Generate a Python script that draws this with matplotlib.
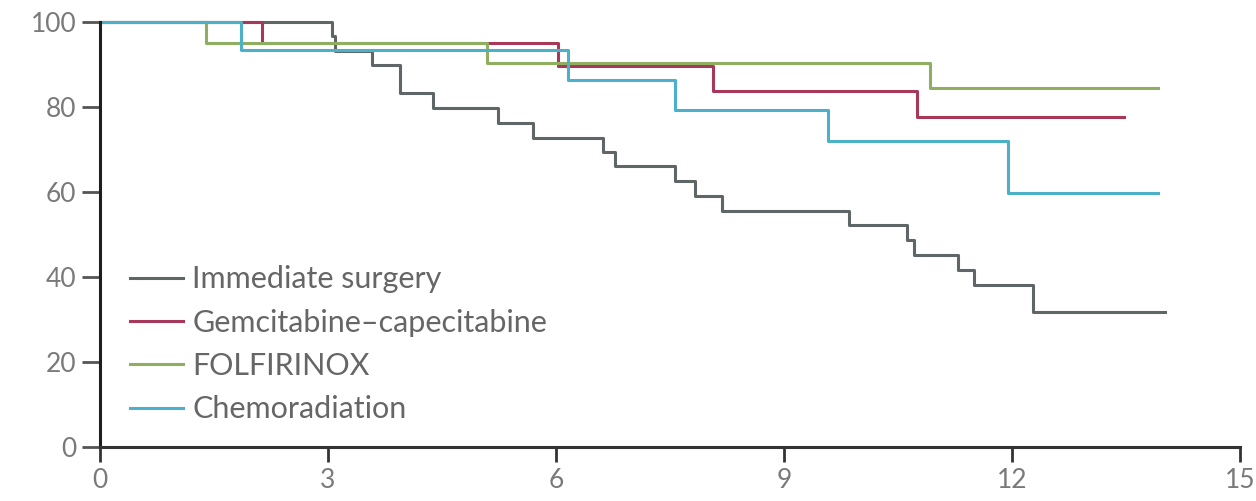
import matplotlib
matplotlib.use("Agg")
from matplotlib import pyplot as plt

# Kaplan-Meier curves (months, % surviving)
surgery_t = [0, 3.05, 3.09, 3.58, 3.95, 4.38, 5.24, 5.70, 6.62, 6.78, 7.57, 7.83, 8.18,
             9.86, 10.62, 10.71, 11.29, 11.50, 12.28, 14.01]
surgery_s = [100, 96.6, 93.1, 89.9, 83.2, 79.7, 76.2, 72.7, 69.4, 66.0, 62.5, 59.0, 55.5,
             52.2, 48.6, 45.0, 41.5, 38.0, 31.8, 31.8]

gemcap_t = [0, 2.13, 6.03, 8.07, 10.75, 13.47]
gemcap_s = [100, 95.0, 89.5, 83.6, 77.6, 77.6]

folfirinox_t = [0, 1.40, 5.09, 10.92, 13.92]
folfirinox_s = [100, 95.1, 90.2, 84.5, 84.5]

chemorad_t = [0, 1.86, 6.16, 7.57, 9.58, 11.95, 13.92]
chemorad_s = [100, 93.3, 86.3, 79.2, 71.9, 59.7, 59.7]

labels = ["Immediate surgery", "Gemcitabine\u2013capecitabine", "FOLFIRINOX", "Chemoradiation"]
colors = ["#5f6668", "#a8385a", "#8fae62", "#4bb0c8"]

x_ticks = [0, 3, 6, 9, 12, 15]
y_ticks = [0, 20, 40, 60, 80, 100]

plt.rcParams['font.family'] = ['Lato', 'DejaVu Sans']

W, H = 1256, 501
fig = plt.figure(figsize=(W / 100, H / 100), dpi=100)
ax = fig.add_axes([100 / W, 54.3 / H, 1140 / W, 425 / H])

curves = [(surgery_t, surgery_s), (gemcap_t, gemcap_s),
          (folfirinox_t, folfirinox_s), (chemorad_t, chemorad_s)]
for (t, s), lab, col in zip(curves, labels, colors):
    ax.step(t, s, where='post', color=col, lw=2.2, label=lab, clip_on=False)

ax.set_xlim(0, 15)
ax.set_ylim(0, 100)
ax.set_xticks(x_ticks)
ax.set_yticks(y_ticks)

for side in ['top', 'right']:
    ax.spines[side].set_visible(False)
ax.spines['left'].set_linewidth(2.2)
ax.spines['left'].set_color('#1e1e1e')
ax.spines['bottom'].set_linewidth(2.2)
ax.spines['bottom'].set_color('#333333')

ax.tick_params(axis='y', length=13, width=2, color='#555555', pad=4,
               labelsize=19, labelcolor='#7a7a7a')
ax.tick_params(axis='x', length=11, width=2, color='#333333', pad=4,
               labelsize=19, labelcolor='#7a7a7a')

leg = ax.legend(loc='lower left', bbox_to_anchor=(0.026, 0.055), frameon=False,
                fontsize=22, handlelength=1.75, handletextpad=0.3,
                labelspacing=0.5, borderpad=0, borderaxespad=0)
for txt in leg.get_texts():
    txt.set_color('#666666')

plt.savefig('out.png', dpi=100)
plt.close()
